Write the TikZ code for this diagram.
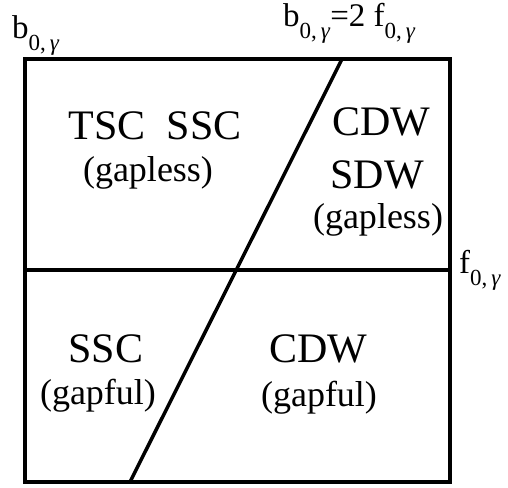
\documentclass[tikz,border=0pt]{standalone}
\usepackage{fontspec}
\setmainfont{Liberation Serif}
\newcommand{\mysub}[1]{#1\raisebox{-12pt}{\fontsize{23}{23}\selectfont 0,\,\textit{γ}}}
\begin{document}
\begin{tikzpicture}[x=1pt,y=-1pt,
  big/.style={inner sep=0pt,anchor=base,font=\fontsize{42}{48}\selectfont},
  small/.style={inner sep=0pt,anchor=base,font=\fontsize{36}{42}\selectfont},
  axlab/.style={inner sep=0pt,anchor=base west,font=\fontsize{33}{36}\selectfont},
  frame/.style={line width=4pt,line join=miter},
  divider/.style={line width=3.5pt}]
\useasboundingbox (0,0) rectangle (508,487);
\coordinate (tl) at (25,59);
\coordinate (br) at (450,482);
\coordinate (ml) at (25,270);
\coordinate (mr) at (450,270);
\coordinate (dtop) at (342,59);
\coordinate (dbot) at (130,482);
\draw[frame] (tl) rectangle (br);
\draw[divider] (ml) -- (mr);
\draw[divider] (dtop) -- (dbot);
% labels
\node[big] (tsc) at (155,139) {TSC\ \ SSC};
\node[small] (gl1) at (148,181) {(gapless)};
\node[big] (cdw1) at (381,135) {CDW};
\node[big] (sdw) at (377,188) {SDW};
\node[small] (gl2) at (378,228) {(gapless)};
\node[big] (ssc) at (106,362) {SSC};
\node[small] (gf1) at (98,404) {(gapful)};
\node[big] (cdw2) at (318,362) {CDW};
\node[small] (gf2) at (319,406) {(gapful)};
% axis labels
\node[axlab] (bl) at (12,38) {\mysub{b}};
\node[axlab] (bf) at (283,27) {\mysub{b}=2 \mysub{f}};
\node[axlab] (fl) at (459,273) {\mysub{f}};
\end{tikzpicture}
\end{document}
